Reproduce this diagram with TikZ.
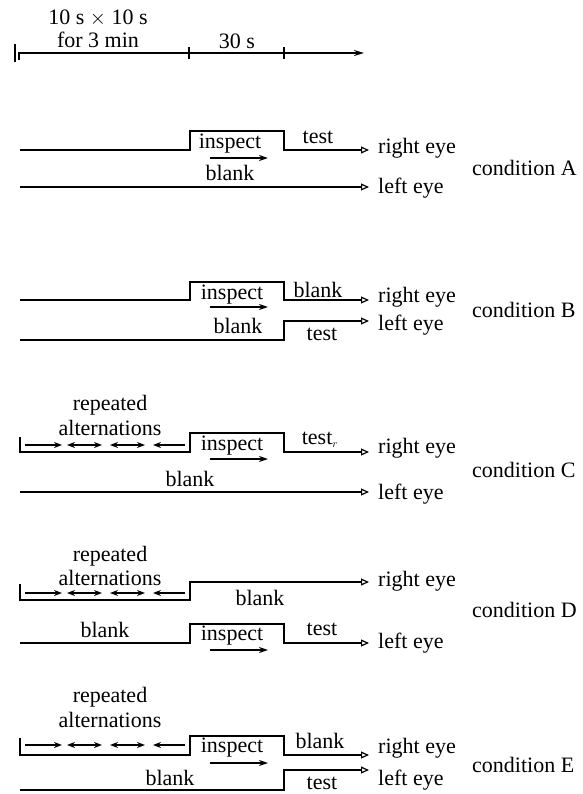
\documentclass[tikz,border=0pt]{standalone}
\usepackage{fontspec}
\setmainfont{Liberation Serif}
\usetikzlibrary{arrows.meta}
\begin{document}
\begin{tikzpicture}[x=1pt,y=-1pt,
  every node/.style={inner sep=0pt,font=\fontsize{22}{25}\selectfont},
  sig/.style={line width=2pt,line join=miter},
  sigend/.style={sig,-{Triangle[open,length=8pt,width=7pt,line width=1.2pt]}},
  dir/.style={line width=1.5pt,-{Stealth[length=9pt,width=6pt]}},
  alt/.style={line width=1.4pt,{Stealth[length=8pt,width=6pt]}-{Stealth[length=8pt,width=6pt]}},
  altr/.style={line width=1.4pt,-{Stealth[length=8pt,width=6pt]}},
  altl/.style={line width=1.4pt,{Stealth[length=8pt,width=6pt]}-},
  lbl/.style={anchor=west}]
\useasboundingbox (0,0) rectangle (582,794);

% time scale
\coordinate (t0) at (18,53);
\coordinate (t3) at (364,53);
\draw[line width=1.8pt,-{Stealth[length=10pt,width=6pt]}] (t0) -- (t3);
\draw[line width=1.8pt] (15,44) -- (15,62) (19,53) -- (19,60);
\draw[line width=1.5pt] (189,47) -- (189,59) (284,47) -- (284,59);
\node (t10) at (98,18) {10 s $\times$ 10 s};
\node (tmin) at (98,40) {for 3 min};
\node (t30) at (237,41) {30 s};

% alternation arrows along a line at height y
\newcommand{\alternations}[1]{%
  \draw[altr] (25,#1) -- (62,#1);
  \draw[alt] (67,#1) -- (102,#1);
  \draw[alt] (110,#1) -- (145,#1);
  \draw[altl] (153,#1) -- (185,#1);}

% condition A
\coordinate (aR) at (369,150);
\coordinate (aL) at (369,187);
\draw[sigend] (20,150) -- (190,150) -- (190,131) -- (284,131) -- (284,150) -- (aR);
\draw[sigend] (20,187) -- (aL);
\node (aIn) at (230,144) {inspect};
\draw[dir] (210,158) -- (268,158);
\node (aTe) at (318,137) {test};
\node (aBl) at (230,173) {blank};
\node[lbl] (aRe) at (378,148) {right eye};
\node[lbl] (aLe) at (378,188) {left eye};
\node[lbl] (aC) at (472,168) {condition A};

% condition B
\coordinate (bR) at (369,300);
\coordinate (bL) at (369,321);
\draw[sigend] (20,300) -- (190,300) -- (190,282) -- (284,282) -- (284,300) -- (bR);
\draw[sigend] (20,340) -- (284,340) -- (284,321) -- (bL);
\node (bIn) at (232,295) {inspect};
\draw[dir] (210,307) -- (268,307);
\node (bBl) at (318,290) {blank};
\node (bBl2) at (238,326) {blank};
\node (bTe) at (322,334) {test};
\node[lbl] (bRe) at (378,297) {right eye};
\node[lbl] (bLe) at (378,325) {left eye};
\node[lbl] (bC) at (472,310) {condition B};

% condition C
\coordinate (cR) at (369,452);
\coordinate (cL) at (369,492);
\node (cRp) at (110,405) {repeated};
\node (cAl) at (110,428) {alternations};
\draw[sigend] (20,437) -- (20,452) -- (190,452) -- (190,433) -- (284,433) -- (284,452) -- (cR);
\alternations{445}
\node (cIn) at (232,446) {inspect};
\draw[dir] (210,459) -- (268,459);
\node (cTe) at (320,440) {test$_{\scriptscriptstyle r}$};
\node (cBl) at (190,479) {blank};
\draw[sigend] (20,492) -- (cL);
\node[lbl] (cRe) at (378,448) {right eye};
\node[lbl] (cLe) at (378,494) {left eye};
\node[lbl] (cC) at (472,470) {condition C};

% condition D
\coordinate (dR) at (369,582);
\coordinate (dL) at (369,643);
\node (dRp) at (110,556) {repeated};
\node (dAl) at (110,578) {alternations};
\draw[sigend] (20,584) -- (20,600) -- (190,600) -- (190,582) -- (dR);
\alternations{593}
\node (dBl) at (260,598) {blank};
\draw[sigend] (20,643) -- (190,643) -- (190,624) -- (284,624) -- (284,643) -- (dL);
\node (dBl2) at (105,630) {blank};
\node (dIn) at (232,636) {inspect};
\draw[dir] (210,650) -- (268,650);
\node (dTe) at (322,629) {test};
\node[lbl] (dRe) at (378,581) {right eye};
\node[lbl] (dLe) at (378,643) {left eye};
\node[lbl] (dC) at (472,610) {condition D};

% condition E
\coordinate (eR) at (369,755);
\coordinate (eL) at (369,770);
\node (eRp) at (110,697) {repeated};
\node (eAl) at (110,720) {alternations};
\draw[sigend] (20,738) -- (20,755) -- (190,755) -- (190,736) -- (284,736) -- (284,755) -- (eR);
\alternations{745}
\node (eIn) at (232,748) {inspect};
\draw[dir] (210,763) -- (268,763);
\node (eBl) at (320,741) {blank};
\draw[sigend] (20,790) -- (284,790) -- (284,770) -- (eL);
\node (eBl2) at (170,778) {blank};
\node (eTe) at (322,783) {test};
\node[lbl] (eRe) at (378,748) {right eye};
\node[lbl] (eLe) at (378,780) {left eye};
\node[lbl] (eC) at (472,765) {condition E};
\end{tikzpicture}
\end{document}
